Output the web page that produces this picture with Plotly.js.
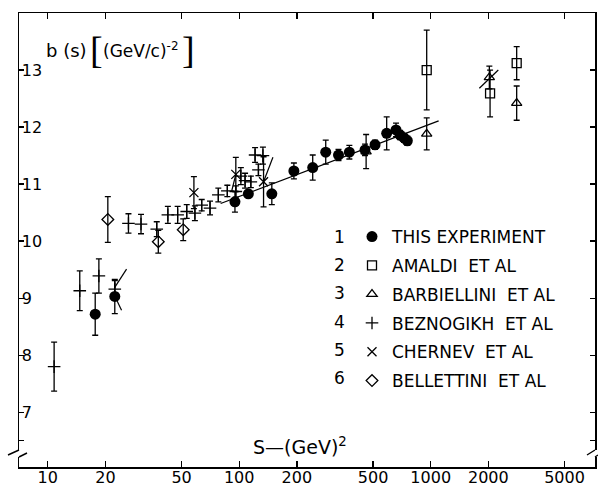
<!DOCTYPE html>
<html>
<head>
<meta charset="utf-8">
<script src="https://cdn.plot.ly/plotly-3.0.1.min.js"></script>
<style>html,body{margin:0;padding:0;background:#fff;}#chart{width:598px;height:487px;}</style>
</head>
<body>
<div id="chart"></div>
<script>
// ---- data ----
var thisExpS   = [17.7, 22.4, 95, 111.6, 148, 193, 242, 283, 330, 376, 454, 512, 589, 659, 692, 726, 755];
var thisExpB   = [8.72, 9.03, 10.69, 10.83, 10.83, 11.23, 11.29, 11.56, 11.51, 11.56, 11.6, 11.69, 11.89, 11.95, 11.86, 11.81, 11.76];
var thisExpErr = [0.37, 0.30, 0.18, 0.05, 0.19, 0.14, 0.22, 0.21, 0.10, 0.12, 0.10, 0.08, 0.29, 0.12, 0.08, 0.08, 0.08];

var amaldiS   = [953, 2042, 2812];
var amaldiB   = [13.0, 12.59, 13.12];
var amaldiErr = [0.70, 0.41, 0.29];

var barbS   = [460, 953, 2024, 2812];
var barbB   = [11.57, 11.88, 12.87, 12.42];
var barbErr = [0.30, 0.28, 0.20, 0.30];

var beznS   = [10.8, 14.7, 18.5, 22.4, 26.4, 30.7, 37.1, 42.4, 47.7, 53.2, 58.7, 63.7, 70.4, 77.8, 86.7, 96, 102, 107.3, 115, 121, 126, 133];
var beznB   = [7.8, 9.13, 9.39, 9.16, 10.31, 10.3, 10.21, 10.46, 10.46, 10.52, 10.49, 10.63, 10.58, 10.81, 10.88, 10.87, 11.14, 11.06, 11.04, 11.51, 11.25, 11.5];
var beznErr = [0.43, 0.35, 0.30, 0.15, 0.17, 0.17, 0.13, 0.15, 0.15, 0.12, 0.13, 0.10, 0.12, 0.12, 0.10, 0.10, 0.15, 0.13, 0.10, 0.13, 0.10, 0.15];

var chernevS   = [58, 96, 134];
var chernevB   = [10.85, 11.17, 11.04];
var chernevErr = [0.28, 0.30, 0.44];

var bellS   = [20.6, 37.8, 51];
var bellB   = [10.38, 9.99, 10.2];
var bellErr = [0.40, 0.20, 0.19];

// fitted line through this experiment
var fitS = [80, 1100];
var fitB = [10.66, 12.11];

// short slanted bars drawn on the figure
var segS = [[22.3, 25.8], [22.9, 24.3], [91.4, 96], [134, 150], [1795, 2254]];
var segB = [[9.18, 9.51], [8.97, 8.79], [10.88, 11.17], [11.04, 11.47], [12.68, 13.0]];

var legendNums  = ['1', '2', '3', '4', '5', '6'];
var legendNames = ['THIS EXPERIMENT', 'AMALDI\u00a0 ET AL', 'BARBIELLINI\u00a0 ET AL', 'BEZNOGIKH\u00a0 ET AL', 'CHERNEV\u00a0 ET AL', 'BELLETTINI\u00a0 ET AL'];

var xTickVals = [10, 20, 50, 100, 200, 500, 1000, 2000, 5000];
var xTickText = ['10', '20', '50', '100', '200', '500', '1000', '2000', '5000'];
var yTickVals = [7, 8, 9, 10, 11, 12, 13];
var yTickText = ['7', '8', '9', '10', '11', '12', '13'];
var yExtraTick = [6.5];

// ---- build ----
var FONT = 'DejaVu Sans, sans-serif';
function errBar(arr) {
  return {type: 'data', array: arr, visible: true, color: '#000', thickness: 1.3, width: 3};
}
var segX = [], segY = [];
segS.forEach(function (s, i) { segX = segX.concat(s, [null]); segY = segY.concat(segB[i], [null]); });

var traces = [
  {x: fitS, y: fitB, mode: 'lines', line: {color: '#000', width: 1.3}, showlegend: false, hoverinfo: 'skip'},
  {x: segX, y: segY, mode: 'lines', line: {color: '#000', width: 1.2}, showlegend: false, hoverinfo: 'skip', connectgaps: false},
  {x: thisExpS, y: thisExpB, error_y: errBar(thisExpErr), mode: 'markers', name: legendNames[0], legendgroup: 'g1',
   marker: {symbol: 'circle', size: 11, color: '#000'}},
  {x: amaldiS, y: amaldiB, error_y: errBar(amaldiErr), mode: 'markers', name: legendNames[1], legendgroup: 'g2',
   marker: {symbol: 'square-open', size: 9, color: '#000', line: {width: 1.3, color: '#000'}}},
  {x: barbS, y: barbB, error_y: errBar(barbErr), mode: 'markers', name: legendNames[2], legendgroup: 'g3',
   marker: {symbol: 'triangle-up-open', size: 9, color: '#000', line: {width: 1.3, color: '#000'}}},
  {x: beznS, y: beznB, error_y: errBar(beznErr), mode: 'markers', name: legendNames[3], legendgroup: 'g4',
   marker: {symbol: 'cross-thin-open', size: 9, color: '#000', line: {width: 1.3, color: '#000'}}},
  {x: chernevS, y: chernevB, error_y: errBar(chernevErr), mode: 'markers', name: legendNames[4], legendgroup: 'g5',
   marker: {symbol: 'x-thin-open', size: 9, color: '#000', line: {width: 1.3, color: '#000'}}},
  {x: bellS, y: bellB, error_y: errBar(bellErr), mode: 'markers', name: legendNames[5], legendgroup: 'g6',
   marker: {symbol: 'diamond-open', size: 9, color: '#000', line: {width: 1.3, color: '#000'}}}
];

// plot area in pixels: x 19..595, y 13..467
function pu(px) { return (px - 19) / 576; }
function pv(py) { return (467 - py) / 454; }

function txt(text, px, py, size, anchor, family, weight) {
  return {xref: 'paper', yref: 'paper', x: pu(px), y: pv(py), xanchor: anchor || 'left', yanchor: 'middle',
          showarrow: false, text: text, font: {family: family || FONT, size: size, color: '#000', weight: weight || 'normal'}};
}
var BRACKET_FONT = 'Liberation Serif, DejaVu Serif, serif';
var annotations = [
  txt('b (s)', 44, 51, 18),
  txt('[', 96, 50, 38, 'center', BRACKET_FONT),
  txt('(GeV/c)<sup>-2</sup>', 101, 50, 17),
  txt(']', 188, 50, 38, 'center', BRACKET_FONT),
  txt('S\u2014(GeV)<sup>2</sup>', 251, 446, 19)
];
var rowY = [236.7, 265, 293.3, 321.7, 350, 378.3];
legendNums.forEach(function (n, i) { annotations.push(txt(n, 339, rowY[i], 17, 'center')); });

var shapes = [
  // axis break marks
  {type: 'rect', xref: 'paper', yref: 'paper', x0: pu(16), x1: pu(22), y0: pv(457), y1: pv(450), fillcolor: '#fff', line: {width: 0}, layer: 'above'},
  {type: 'path', xref: 'paper', yref: 'paper', layer: 'above', line: {color: '#000', width: 1.4},
   path: 'M ' + pu(8) + ',' + pv(455) + ' L ' + pu(19) + ',' + pv(450) + ' M ' + pu(19) + ',' + pv(457) + ' L ' + pu(27) + ',' + pv(453)},
  {type: 'rect', xref: 'paper', yref: 'paper', x0: pu(592), x1: pu(598), y0: pv(457), y1: pv(450), fillcolor: '#fff', line: {width: 0}, layer: 'above'},
  {type: 'path', xref: 'paper', yref: 'paper', layer: 'above', line: {color: '#000', width: 1.4},
   path: 'M ' + pu(587) + ',' + pv(455) + ' L ' + pu(595) + ',' + pv(450) + ' M ' + pu(595) + ',' + pv(457) + ' L ' + pu(598) + ',' + pv(455)}
];

var layout = {
  width: 598, height: 487,
  margin: {l: 19, r: 3, t: 13, b: 20, pad: 0},
  paper_bgcolor: '#fff', plot_bgcolor: '#fff',
  font: {family: FONT, size: 16, color: '#000'},
  showlegend: true,
  legend: {x: pu(352), y: pv(219), xanchor: 'left', yanchor: 'top', bgcolor: 'rgba(0,0,0,0)',
           font: {family: FONT, size: 17, color: '#000'}, traceorder: 'grouped', tracegroupgap: 3.7},
  xaxis: {type: 'log', range: [0.850, 3.858], tickvals: xTickVals, ticktext: xTickText,
          ticks: 'inside', ticklen: 6, tickwidth: 1.3, tickcolor: '#000', showline: true, linewidth: 1.5, linecolor: '#000',
          mirror: 'ticks', showgrid: false, zeroline: false, tickangle: 0, ticklabelstandoff: -5,
          tickfont: {family: FONT, size: 16, color: '#000'}},
  yaxis: {range: [6.04, 14.0], tickvals: yTickVals, ticktext: yTickText,
          ticks: 'inside', ticklen: 5, tickwidth: 1.3, tickcolor: '#000', ticklabelposition: 'inside',
          ticklabelstandoff: -2,
          minor: {tickvals: yExtraTick, ticks: 'inside', ticklen: 5, tickwidth: 1.3, tickcolor: '#000', showgrid: false},
          showline: true, linewidth: 1.5, linecolor: '#000', mirror: 'ticks', showgrid: false, zeroline: false,
          tickfont: {family: FONT, size: 16, color: '#000'}},
  annotations: annotations,
  shapes: shapes
};

Plotly.newPlot('chart', traces, layout, {displayModeBar: false, staticPlot: true});
</script>
</body>
</html>
